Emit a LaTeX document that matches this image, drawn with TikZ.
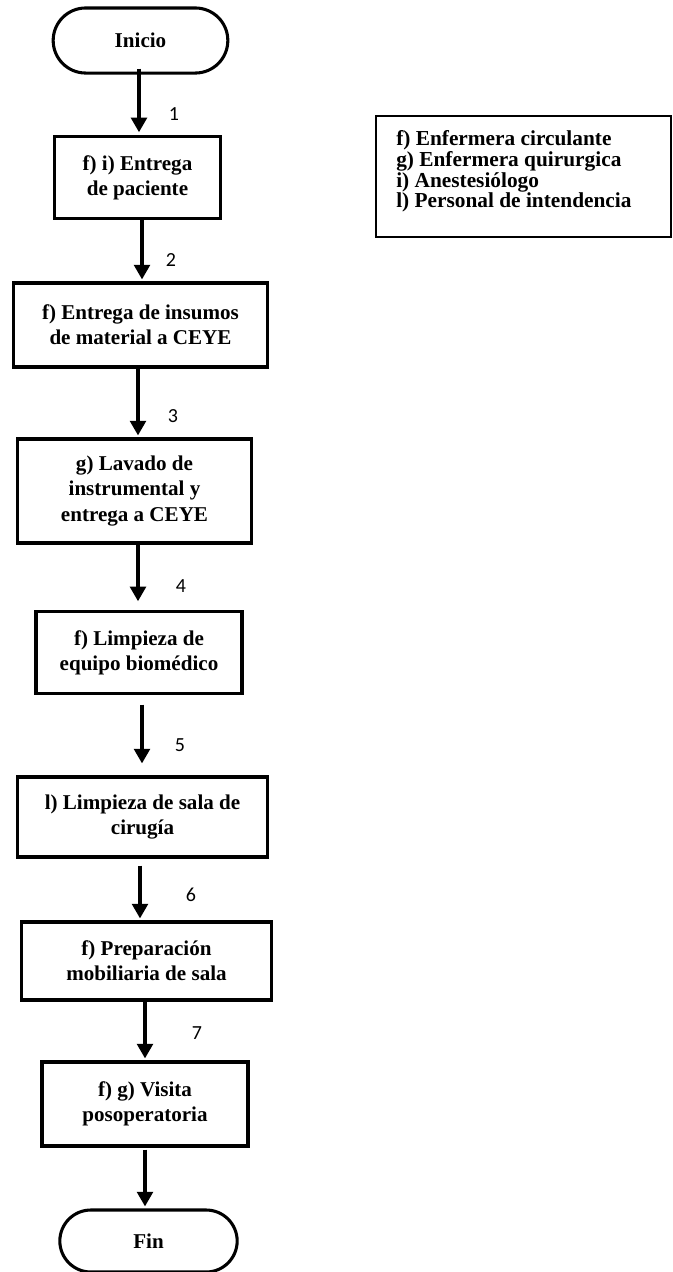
\documentclass[tikz,border=0pt]{standalone}
\usepackage{fontspec}
\setmainfont{Liberation Serif}
\newfontfamily\numfont{Carlito}
\usetikzlibrary{arrows.meta,shapes.misc,calc}

\tikzset{
  paso/.style={draw, line width=2.3pt, align=center, inner sep=0pt,
    font=\bfseries\fontsize{15.8}{18.8}\selectfont},
  terminal/.style={paso, rounded rectangle},
  flecha/.style={line width=3pt, -{Triangle[width=11.7pt,length=11pt]}},
  numero/.style={font=\numfont\fontsize{15}{17}\selectfont},
  leyenda/.style={draw, line width=1.5pt, inner sep=0pt}
}

\begin{document}
\begin{tikzpicture}[x=0.75pt,y=-0.75pt]
    \useasboundingbox (0,0) rectangle (672,1272);

    % pasos del proceso
    \node[terminal, minimum width=131pt, minimum height=48.8pt] (ini) at (140.5,40.5) {Inicio};
    \node[paso, minimum width=124pt, minimum height=61pt] (p1) at (137.5,177.5) {f) i) Entrega\\de paciente};
    \node[paso, minimum width=191pt, minimum height=63pt] (p2) at (140.5,325) {f) Entrega de insumos\\de material a CEYE};
    \node[paso, minimum width=176pt, minimum height=78pt] (p3) at (134.5,491) {g) Lavado de\\instrumental y\\entrega a CEYE};
    \node[paso, minimum width=154.5pt, minimum height=61pt] (p4) at (139,652.5) {f) Limpieza de\\equipo biomédico};
    \node[paso, minimum width=188pt, minimum height=60pt] (p5) at (142.5,817) {l) Limpieza de sala de\\cirugía};
    \node[paso, minimum width=188pt, minimum height=58.5pt] (p6) at (146.5,961) {f) Preparación\\mobiliaria de sala};
    \node[paso, minimum width=154.5pt, minimum height=63pt] (p7) at (145,1104) {f) g) Visita\\posoperatoria};
    \node[terminal, minimum width=133pt, minimum height=46.5pt] (fin) at (148.5,1241) {Fin};

    % leyenda
    \node[leyenda, minimum width=221pt, minimum height=91pt] (ley) at (523.5,176.5) {};
    \node[anchor=north west, align=left, inner sep=0pt,
      font=\bfseries\fontsize{16}{13.5}\selectfont] (roles) at (396,130)
      {f) Enfermera circulante\\g) Enfermera quirurgica\\i) Anestesiólogo\\l) Personal de intendencia};

    % flechas
    \draw[flecha] ($(ini.south)+(-1.5,-6)$) -- ($(p1.north)+(1.5,-3)$);
    \draw[flecha] ($(p1.south)+(4.5,0)$) -- ($(p2.north)+(1.5,-2)$);
    \draw[flecha] ($(p2.south)+(-2.5,0)$) -- ($(p3.north)+(3.5,-2)$);
    \draw[flecha] ($(p3.south)+(3.5,0)$) -- ($(p4.north)+(-1,-9)$);
    \draw[flecha] ($(p4.south)+(3,10)$) -- ($(p5.north)+(-0.5,-12)$);
    \draw[flecha] ($(p5.south)+(-2.5,7)$) -- ($(p6.north)+(-6.5,-2)$);
    \draw[flecha] ($(p6.south)+(-1.5,0)$) -- ($(p7.north)+(0,-2)$);
    \draw[flecha] ($(p7.south)+(0,2)$) -- ($(fin.north)+(-3.5,-2)$);

    % numeros
    \node[numero] (n1) at (174,114) {1};
    \node[numero] (n2) at (171,260) {2};
    \node[numero] (n3) at (173,416) {3};
    \node[numero] (n4) at (181,586) {4};
    \node[numero] (n5) at (180,745) {5};
    \node[numero] (n6) at (191,895) {6};
    \node[numero] (n7) at (197,1033) {7};
\end{tikzpicture}
\end{document}
